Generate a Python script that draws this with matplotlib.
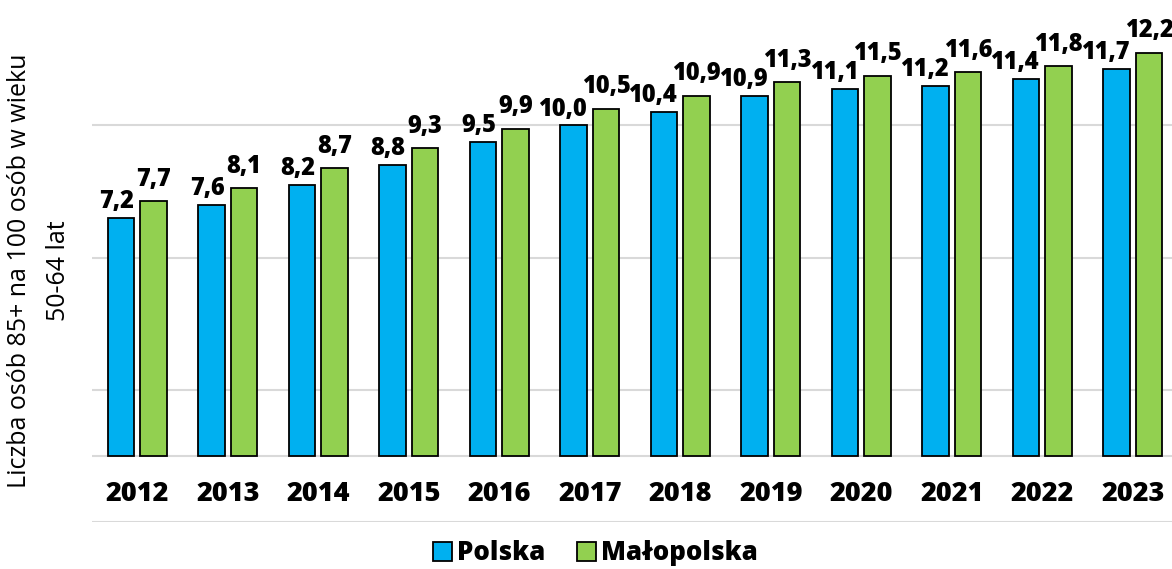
import matplotlib
matplotlib.use("Agg")
import matplotlib.pyplot as plt
from matplotlib.patches import Patch
import numpy as np

# data
years = ["2012", "2013", "2014", "2015", "2016", "2017",
         "2018", "2019", "2020", "2021", "2022", "2023"]
polska = [7.2, 7.6, 8.2, 8.8, 9.5, 10.0, 10.4, 10.9, 11.1, 11.2, 11.4, 11.7]
malopolska = [7.7, 8.1, 8.7, 9.3, 9.9, 10.5, 10.9, 11.3, 11.5, 11.6, 11.8, 12.2]
series_names = ["Polska", "Małopolska"]

BLUE = "#00B0F0"
GREEN = "#92D050"
GRID = "#d9d9d9"
HEAVY = 800

plt.rcParams['font.family'] = ['Open Sans', 'DejaVu Sans']

fig = plt.figure(figsize=(11.72, 5.69), dpi=100)
ax = fig.add_axes([92 / 1172, 47 / 569, 1086 / 1172, 522 / 569])

x = np.arange(len(years))
w = 0.29
off = 0.18

ax.bar(x - off, polska, w, color=BLUE, edgecolor="black", linewidth=1.3, zorder=3)
ax.bar(x + off, malopolska, w, color=GREEN, edgecolor="black", linewidth=1.3, zorder=3)

def fmt(v):
    return f"{v:.1f}".replace(".", ",")

# value labels
for xi, v in zip(x, polska):
    ax.annotate(fmt(v), (xi - off + w / 2, v), xytext=(0, 7),
                textcoords="offset points", ha="right", va="baseline",
                fontsize=17, fontweight=HEAVY, zorder=4)
for xi, v in zip(x, malopolska):
    ax.annotate(fmt(v), (xi + off, v), xytext=(0, 11),
                textcoords="offset points", ha="center", va="baseline",
                fontsize=17, fontweight=HEAVY, zorder=4, annotation_clip=False)

# category labels sit between the zero line and the bottom of the axis
for xi, yr in zip(x, years):
    ax.text(xi, -1.15, yr, ha="center", va="center", fontsize=19.5, fontweight=HEAVY)

ax.set_xlim(-0.5, 11.5)
ax.set_ylim(-2, 13.79)
ax.set_yticks([-2, 2, 6, 10])
ax.set_yticklabels([])
ax.set_xticks([])
ax.tick_params(axis="y", length=0)
ax.grid(axis="y", color=GRID, linewidth=1.5, zorder=0)
ax.axhline(0, color=GRID, linewidth=1.5, zorder=1)
for s in ax.spines.values():
    s.set_visible(False)

fig.text(0.033, 0.525, "Liczba osób 85+ na 100 osób w wieku\n50-64 lat",
         rotation=90, ha="center", va="center", fontsize=18, linespacing=1.75)

handles = [Patch(facecolor=BLUE, edgecolor="black", linewidth=1.3),
           Patch(facecolor=GREEN, edgecolor="black", linewidth=1.3)]
fig.legend(handles, series_names, loc="center", bbox_to_anchor=(0.508, 0.028),
           ncol=2, frameon=False, handlelength=0.75, handleheight=0.75,
           handletextpad=0.2, columnspacing=1.2,
           prop={"size": 18.5, "weight": HEAVY})

fig.savefig("out.png", dpi=100)
